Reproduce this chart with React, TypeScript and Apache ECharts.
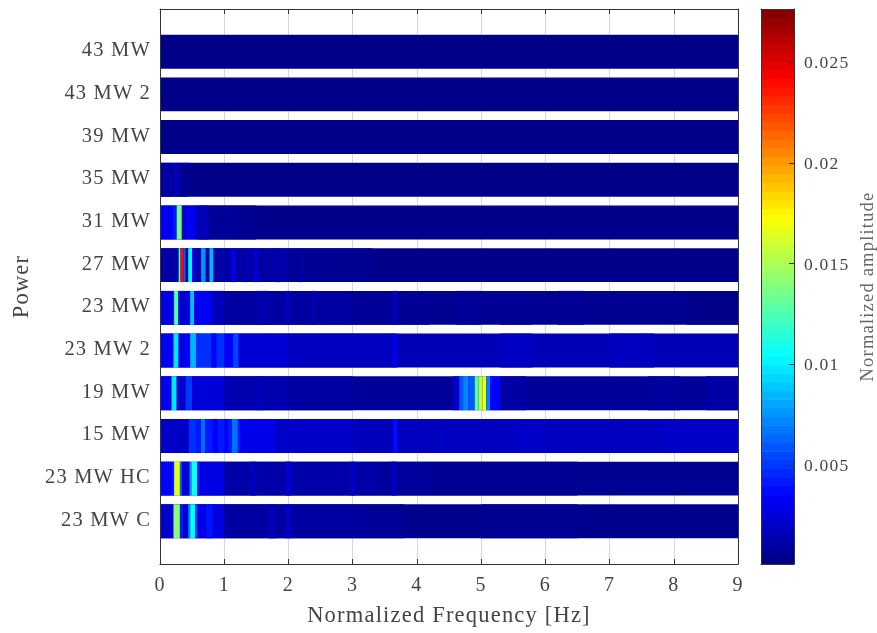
import React, { useEffect, useRef } from "react";
import * as echarts from "echarts";

type Seg = [number, number, number];

const rowLabels = ["43 MW", "43 MW 2", "39 MW", "35 MW", "31 MW", "27 MW", "23 MW", "23 MW 2", "19 MW", "15 MW", "23 MW HC", "23 MW C"];
const freqTicks = [0, 1, 2, 3, 4, 5, 6, 7, 8, 9];
const ampTicks = [0.005, 0.01, 0.015, 0.02, 0.025];
const jetColors = ["#00007f", "#0000ff", "#007fff", "#00ffff", "#7fff7f", "#ffff00", "#ff7f00", "#ff0000", "#7f0000"];

// Each row: [from Hz, to Hz, amplitude], painted in order.
const row43: Seg[] = [[0, 9, 0.0004]];
const row43b: Seg[] = [[0, 9, 0.0004]];
const row39: Seg[] = [[0, 9, 0.0004]];
const row35: Seg[] = [[0, 9, 0.0004], [0, 0.2, 0.0011], [0.22, 0.3, 0.0017], [0.3, 0.45, 0.0007]];
const row31: Seg[] = [
  [0, 9, 0.0004], [1.2, 1.5, 0.0006], [0.6, 1.2, 0.0008], [0, 0.2, 0.0033], [0.2, 0.26, 0.0042],
  [0.26, 0.34, 0.0135], [0.34, 0.4, 0.0022], [0.4, 0.56, 0.0032], [0.56, 0.76, 0.0016],
];
const row27: Seg[] = [
  [0, 9, 0.0004], [2.6, 3.3, 0.0006], [2.0, 2.6, 0.0007], [0, 2.0, 0.0011], [0.29, 0.32, 0.012], [0.32, 0.37, 0.024], [0.37, 0.4, 0.006],
  [0.44, 0.5, 0.0105], [0.5, 0.55, 0.0035], [0.64, 0.71, 0.0075], [0.77, 0.83, 0.0085],
  [1.1, 1.18, 0.0028], [1.3, 1.36, 0.0015], [1.46, 1.52, 0.0025], [1.8, 1.88, 0.0014], [2.17, 2.22, 0.0012],
];
const row23: Seg[] = [
  [0, 9, 0.0006], [8.2, 9, 0.0004], [6.2, 6.6, 0.0007], [5.3, 5.8, 0.0007], [4.6, 5.0, 0.0008], [3.7, 4.2, 0.0007], [3.0, 3.7, 0.0008],
  [1.0, 3.0, 0.001], [1.5, 1.7, 0.0014], [2.36, 2.42, 0.0014], [1.96, 2.02, 0.0019], [3.63, 3.69, 0.0019],
  [0, 0.2, 0.0028], [0.2, 0.31, 0.0045], [0.22, 0.28, 0.0128], [0.31, 0.43, 0.0022],
  [0.43, 0.47, 0.0034], [0.47, 0.53, 0.0088], [0.53, 0.56, 0.0034], [0.56, 0.82, 0.0032], [0.82, 1.0, 0.0017],
];
const row23b: Seg[] = [
  [0, 9, 0.0016], [2.0, 3.65, 0.0018], [5.3, 5.8, 0.0019], [7.0, 7.7, 0.0018], [1.0, 1.25, 0.0034], [1.25, 2.0, 0.0024],
  [3.63, 3.7, 0.003], [0, 0.21, 0.0032], [0.21, 0.29, 0.0097], [0.29, 0.36, 0.0026], [0.36, 0.47, 0.0034],
  [0.47, 0.56, 0.0085], [0.56, 1.0, 0.0048], [0.8, 0.88, 0.0036], [1.14, 1.22, 0.0054],
];
const row19: Seg[] = [
  [0, 9, 0.0008], [8.5, 9, 0.0011], [7.6, 8.1, 0.0009], [5.3, 5.7, 0.0011], [1.0, 2.0, 0.0014], [2.0, 3.0, 0.001], [1.5, 1.6, 0.0017],
  [0, 0.18, 0.0032], [0.18, 0.26, 0.0098], [0.26, 0.4, 0.0022], [0.4, 0.5, 0.005], [0.5, 1.0, 0.0025],
  [4.56, 4.66, 0.002], [4.66, 4.72, 0.0058], [4.72, 4.8, 0.0072], [4.8, 4.9, 0.006],
  [4.9, 4.96, 0.0128], [4.96, 5.02, 0.0152], [5.02, 5.08, 0.0168], [5.08, 5.14, 0.0072], [5.14, 5.3, 0.0036],
];
const row15: Seg[] = [
  [0, 9, 0.0018], [7.8, 9, 0.002], [5.5, 6.0, 0.002], [3.0, 3.6, 0.0017], [1.25, 1.8, 0.003], [1.8, 3.0, 0.0021], [0, 0.45, 0.002],
  [3.63, 3.7, 0.0038], [0.45, 0.56, 0.0048], [0.56, 1.25, 0.0042], [0.64, 0.7, 0.0066], [0.82, 0.9, 0.0034],
  [1.12, 1.21, 0.0066], [1.0, 1.06, 0.0034], [4.35, 4.42, 0.0022],
];
const rowHC: Seg[] = [
  [0, 9, 0.0006], [4.2, 6.5, 0.0007], [3.4, 4.2, 0.0009], [1.0, 3.4, 0.0012], [2.97, 3.03, 0.002], [1.96, 2.04, 0.0024],
  [3.6, 3.68, 0.0018], [1.4, 1.5, 0.0017], [0.6, 1.0, 0.0028],
  [0, 0.18, 0.0036], [0.18, 0.22, 0.0042], [0.22, 0.31, 0.0165], [0.31, 0.34, 0.0065], [0.34, 0.46, 0.0026],
  [0.46, 0.49, 0.0075], [0.49, 0.58, 0.0108], [0.58, 0.62, 0.0042],
];
const rowC: Seg[] = [
  [0, 9, 0.0005], [5.0, 6.5, 0.0006], [3.2, 3.8, 0.0008], [1.0, 3.2, 0.001], [1.7, 1.8, 0.0017], [1.96, 2.04, 0.002],
  [0.55, 1.0, 0.0027], [0.72, 0.82, 0.004],
  [0, 0.16, 0.0021], [0.16, 0.21, 0.0028], [0.21, 0.31, 0.0142], [0.31, 0.36, 0.0042], [0.36, 0.44, 0.002],
  [0.44, 0.47, 0.0072], [0.47, 0.55, 0.0105], [0.55, 0.58, 0.0055],
];
const rows: Seg[][] = [row43, row43b, row39, row35, row31, row27, row23, row23b, row19, row15, rowHC, rowC];

const AMP_MIN = 0.0001;
const AMP_MAX = 0.02763;
const LEVELS = 64;

const FONT = "Liberation Serif";
const INK = "#444";

export default function App() {
  const ref = useRef<HTMLDivElement>(null);

  useEffect(() => {
    const chart = echarts.init(ref.current!, null, { renderer: "svg" });

    const cells = rows.flatMap((segs, r) => segs.map((s) => [s[0], s[1], r + 1, s[2]]));
    const levels = Array.from({ length: LEVELS }, (_, i) => {
      const a = AMP_MIN + ((AMP_MAX - AMP_MIN) * i) / LEVELS;
      const b = AMP_MIN + ((AMP_MAX - AMP_MIN) * (i + 1)) / LEVELS;
      return [a, b, (a + b) / 2];
    });

    const boxLine = { show: true, onZero: false, lineStyle: { color: "#333", width: 1 } };
    const insideTick = { show: true, inside: true, length: 5, lineStyle: { color: "#333" } };
    const boxAxis = (gridIndex: number, position: string, min: number, max: number) => ({
      gridIndex, position, type: "value", min, max, z: 6,
      axisLine: boxLine,
      axisTick: { show: false }, axisLabel: { show: false }, splitLine: { show: false },
    });

    chart.setOption({
      animation: false,
      backgroundColor: "#fff",
      textStyle: { fontFamily: FONT },
      grid: [
        { left: 160, top: 9, width: 578, height: 555 },
        { left: 761, top: 9, width: 34, height: 555 },
      ],
      visualMap: {
        show: false, type: "continuous", seriesIndex: [0, 1], dimension: 3,
        min: AMP_MIN, max: AMP_MAX, inRange: { color: jetColors },
      },
      xAxis: [
        {
          gridIndex: 0, type: "value", position: "bottom", min: 0, max: 9, interval: 1, z: 0,
          name: "Normalized Frequency [Hz]", nameLocation: "middle", nameGap: 39,
          nameTextStyle: { fontFamily: FONT, fontSize: 22.5, color: INK },
          axisLine: { show: false, onZero: false },
          axisTick: { show: false },
          axisLabel: { show: true, fontFamily: FONT, fontSize: 20, color: INK, margin: 10, customValues: freqTicks },
          splitLine: { show: true, lineStyle: { color: "#d8d8d8", width: 1 } },
        },
        { ...boxAxis(0, "top", 0, 9), interval: 1, axisTick: insideTick },
        { ...boxAxis(0, "bottom", 0, 9), interval: 1, axisTick: insideTick },
        boxAxis(1, "bottom", 0, 1),
        boxAxis(1, "top", 0, 1),
      ],
      yAxis: [
        {
          gridIndex: 0, type: "value", position: "left", inverse: true, min: 0, max: 13, interval: 1, z: 6,
          name: "Power", nameLocation: "middle", nameGap: 128,
          nameTextStyle: { fontFamily: FONT, fontSize: 22.5, color: INK },
          axisLine: boxLine,
          axisTick: { show: false },
          axisLabel: {
            margin: 9,
            formatter: (v: number) => (rowLabels[v - 1] ? `{t|${rowLabels[v - 1]}}` : ""),
            rich: { t: { fontFamily: FONT, fontSize: 20.5, color: INK, padding: [0, 0, 5, 0] } },
          },
          splitLine: { show: false },
        },
        boxAxis(0, "right", 0, 13),
        {
          gridIndex: 1, type: "value", position: "right", min: AMP_MIN, max: AMP_MAX, z: 6,
          name: "Normalized amplitude", nameLocation: "middle", nameGap: 63, nameRotate: 90,
          nameTextStyle: { fontFamily: FONT, fontSize: 18.5, color: "#666" },
          axisLine: boxLine,
          axisTick: { ...insideTick, customValues: ampTicks },
          axisLabel: {
            fontFamily: FONT, fontSize: 17.5, color: INK, margin: 10, customValues: ampTicks,
            formatter: (v: number) => String(v),
          },
          splitLine: { show: false },
        },
        boxAxis(1, "left", AMP_MIN, AMP_MAX),
      ],
      series: [
        {
          type: "custom", name: "spectrum", xAxisIndex: 0, yAxisIndex: 0,
          encode: { x: [0, 1], y: 2 }, dimensions: ["from", "to", "row", "amp"],
          data: cells, clip: true, silent: true, z: 2,
          renderItem: (_: any, api: any) => {
            const a = api.coord([api.value(0), api.value(2)]);
            const b = api.coord([api.value(1), api.value(2)]);
            const h = api.size([0, 1])[1] * 0.795;
            return {
              type: "rect",
              shape: { x: a[0], y: a[1] - h / 2, width: b[0] - a[0], height: h },
              style: { fill: api.visual("color") },
            };
          },
        },
        {
          type: "custom", name: "colorbar", xAxisIndex: 3, yAxisIndex: 2,
          encode: { y: [0, 1] }, dimensions: ["low", "high", "mid", "amp"],
          data: levels.map((l) => [l[0], l[1], l[2], l[2]]), silent: true, z: 2,
          renderItem: (_: any, api: any) => {
            const lo = api.coord([0, api.value(0)]);
            const hi = api.coord([1, api.value(1)]);
            return {
              type: "rect",
              shape: { x: lo[0], y: hi[1], width: hi[0] - lo[0], height: lo[1] - hi[1] + 0.6 },
              style: { fill: api.visual("color") },
            };
          },
        },
      ],
    });

    return () => chart.dispose();
  }, []);

  return (
    <div
      ref={ref}
      style={{ position: "absolute", left: 0, top: 0, width: 877, height: 633, letterSpacing: "1.2px", filter: "blur(0.6px)" }}
    />
  );
}
